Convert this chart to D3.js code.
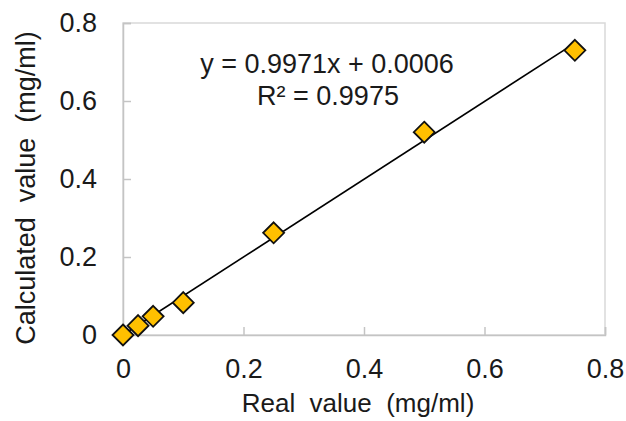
<!DOCTYPE html>
<html>
<head>
<meta charset="utf-8">
<script src="https://cdn.jsdelivr.net/npm/d3@7"></script>
<style>
  body { margin: 0; background: #fff; }
  text { font-family: "Liberation Sans", Arial, sans-serif; fill: #1a1a1a; }
</style>
</head>
<body>
<div id="chart"></div>
<script>
// data
const realValues = [0, 0.025, 0.05, 0.1, 0.25, 0.5, 0.75];
const calcValues = [0, 0.024, 0.048, 0.083, 0.262, 0.52, 0.73];
const xTicks = [0, 0.2, 0.4, 0.6, 0.8];
const yTicks = [0, 0.2, 0.4, 0.6, 0.8];
const xTickLabels = ["0", "0.2", "0.4", "0.6", "0.8"];
const yTickLabels = ["0", "0.2", "0.4", "0.6", "0.8"];
const slope = 0.9971;
const intercept = 0.0006;
const fitRange = [0, 0.75];
const eqLines = ["y = 0.9971x + 0.0006", "R² = 0.9975"];

const W = 626, H = 421;
const margin = {top: 23, right: 21, bottom: 86, left: 123};
const width = W - margin.left - margin.right;
const height = H - margin.top - margin.bottom;

const svg = d3.select("#chart")
    .append("svg")
    .attr("width", W)
    .attr("height", H)
    .append("g")
    .attr("transform", `translate(${margin.left}, ${margin.top})`);

const x = d3.scaleLinear().domain([0, 0.8]).range([0, width]);
const y = d3.scaleLinear().domain([0, 0.8]).range([height, 0]);

const grey = "#c4c4c4";

// frame
svg.append("rect")
    .attr("x", 0).attr("y", 0)
    .attr("width", width).attr("height", height)
    .attr("fill", "none")
    .attr("stroke", "#d9d9d9")
    .attr("stroke-width", 1.5);

// X axis (ticks pointing inward)
const xAxis = svg.append("g")
    .attr("transform", `translate(0, ${height})`)
    .call(d3.axisBottom(x).tickValues(xTicks).tickSize(-8).tickPadding(24)
        .tickFormat((d, i) => xTickLabels[i]));
xAxis.select(".domain").attr("stroke", grey).attr("stroke-width", 1.5);
xAxis.selectAll(".tick line").attr("stroke", grey).attr("stroke-width", 1.5);
xAxis.selectAll(".tick text")
    .attr("font-size", 27)
    .attr("dy", "0.71em")
    .style("font-family", "'Liberation Sans', Arial, sans-serif");

// Y axis
const yAxis = svg.append("g")
    .call(d3.axisLeft(y).tickValues(yTicks).tickSize(-8).tickPadding(26)
        .tickFormat((d, i) => yTickLabels[i]));
yAxis.select(".domain").attr("stroke", grey).attr("stroke-width", 1.5);
yAxis.selectAll(".tick line").attr("stroke", grey).attr("stroke-width", 1.5);
yAxis.selectAll(".tick text")
    .attr("font-size", 27)
    .style("font-family", "'Liberation Sans', Arial, sans-serif");

// trend line
svg.append("line")
    .attr("x1", x(fitRange[0]))
    .attr("y1", y(slope * fitRange[0] + intercept))
    .attr("x2", x(fitRange[1]))
    .attr("y2", y(slope * fitRange[1] + intercept))
    .attr("stroke", "#000")
    .attr("stroke-width", 1.6);

// diamonds
const points = realValues.map((d, i) => ({rx: d, cy: calcValues[i]}));
svg.selectAll("path.pt")
    .data(points)
    .join("path")
    .attr("class", "pt")
    .attr("d", "M0,-10.5L10.5,0L0,10.5L-10.5,0Z")
    .attr("transform", d => `translate(${x(d.rx)}, ${y(d.cy)})`)
    .attr("fill", "#ffc000")
    .attr("stroke", "#111")
    .attr("stroke-width", 1.8);

// equation
svg.append("text")
    .attr("x", 327 - margin.left)
    .attr("y", 73 - margin.top)
    .attr("text-anchor", "middle")
    .attr("font-size", 27)
    .text(eqLines[0]);
svg.append("text")
    .attr("x", 328 - margin.left)
    .attr("y", 105 - margin.top)
    .attr("text-anchor", "middle")
    .attr("font-size", 27)
    .text(eqLines[1]);

// axis titles
svg.append("text")
    .attr("x", 358 - margin.left)
    .attr("y", 412 - margin.top)
    .attr("text-anchor", "middle")
    .attr("font-size", 26)
    .style("white-space", "pre")
    .text("Real  value  (mg/ml)");

svg.append("text")
    .attr("transform", `translate(${35 - margin.left}, ${188 - margin.top}) rotate(-90)`)
    .attr("text-anchor", "middle")
    .attr("font-size", 27)
    .style("white-space", "pre")
    .text("Calculated  value  (mg/ml)");
</script>
</body>
</html>
